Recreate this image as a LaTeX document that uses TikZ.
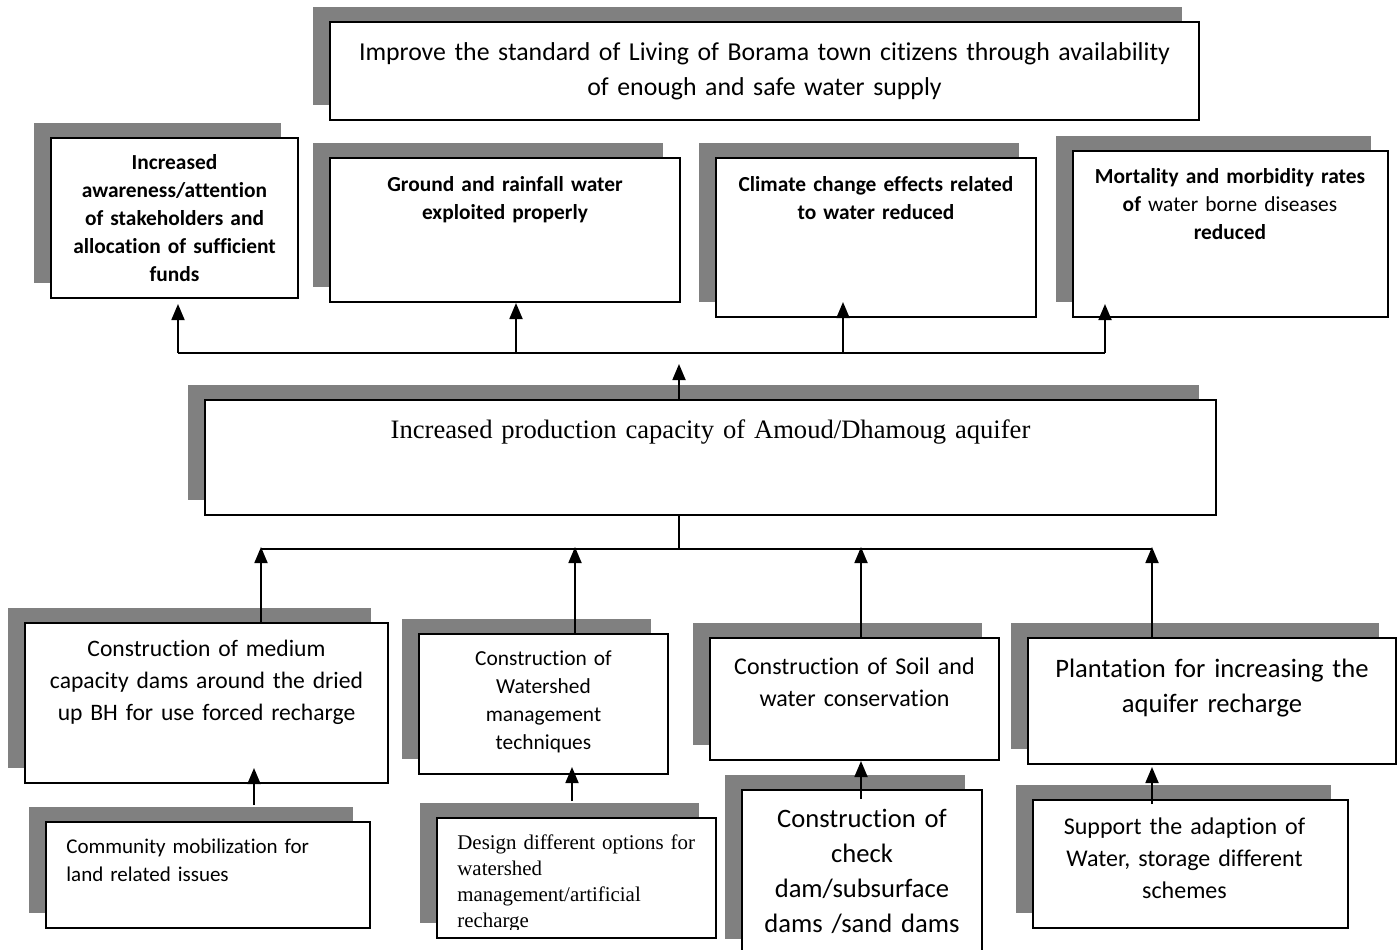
\documentclass[tikz,border=0pt]{standalone}
\usepackage{fontspec}
\setmainfont{Carlito}[Ligatures=NoCommon]
\newfontfamily\tnr{Liberation Serif}
\usetikzlibrary{arrows.meta,shadows,fit,calc}
\definecolor{shadowgray}{HTML}{808080}
\begin{document}
\begin{tikzpicture}[x=0.5pt,y=-0.5pt,
  box/.style={draw=black, line width=1pt, fill=white, inner sep=0pt, rectangle,
    general shadow={fill=shadowgray, draw=none, shadow xshift=-8.5pt, shadow yshift=7.5pt}},
  ln/.style={line width=0.9pt},
  arr/.style={line width=0.9pt, -{Triangle[width=6.5pt,length=8pt]}},
  txt/.style={inner sep=0pt, anchor=base, align=center},
  fsA/.style={font=\fontsize{10.7pt}{14pt}\selectfont},
  fsB/.style={font=\fontsize{12pt}{16pt}\selectfont},
  fsC/.style={font=\fontsize{13.3pt}{17.5pt}\selectfont},
  fsAb/.style={font=\fontsize{10.7pt}{14pt}\selectfont\bfseries},
]
\useasboundingbox (0,0) rectangle (1399,949);
\clip (0,0) rectangle (1399,949);

% boxes
\node[box, fit={(330,22) (1199,120)}] (T) {};
\node[box, fit={(51,138) (298,298)}] (A) {};
\node[box, fit={(330,158) (680,302)}] (B) {};
\node[box, fit={(716,158) (1036,317)}] (C) {};
\node[box, fit={(1073,151) (1388,317)}] (D) {};
\node[box, fit={(205,400) (1216,515)}] (Q) {};
\node[box, fit={(25,623) (388,783)}] (E) {};
\node[box, fit={(419,634) (668,774)}] (F) {};
\node[box, fit={(710,638) (999,760)}] (G) {};
\node[box, fit={(1028,638) (1396,764)}] (H) {};
\node[box, fit={(46,822) (370,928)}] (I) {};
\node[box, fit={(437,818) (716,938)}] (J) {};
\node[box, fit={(742,790) (982,954)}] (K) {};
\node[box, fit={(1033,800) (1348,928)}] (L) {};

% texts
\node[txt, font=\fontsize{12.9pt}{17.5pt}\selectfont, text width=440pt] (Tt) at (764.5,60)
  {Improve the standard of Living of Borama town citizens through availability\\of enough and safe water supply};
\node[txt, fsAb, text width=120pt] (At) at (174.5,169.5)
  {Increased\\awareness/attention\\of stakeholders and\\allocation of sufficient\\funds};
\node[txt, fsAb, text width=170pt] (Bt) at (505,191)
  {Ground and rainfall water\\exploited properly};
\node[txt, fsAb, text width=155pt] (Ct) at (876,191)
  {Climate change effects related\\to water reduced};
\node[txt, fsA, text width=155pt] (Dt) at (1230,183)
  {\textbf{Mortality and morbidity rates}\\\textbf{of} water borne diseases\\\textbf{reduced}};
\node[txt, font=\tnr\fontsize{13.3pt}{17.5pt}\selectfont, text width=480pt] (Qt) at (710.5,438)
  {Increased production capacity of Amoud/Dhamoug aquifer};
\node[txt, font=\fontsize{11.8pt}{16pt}\selectfont, text width=178pt] (Et) at (206.5,656)
  {Construction of medium\\capacity dams around the dried\\up BH for use forced recharge};
\node[txt, fsA, text width=120pt] (Ft) at (543.5,665.5)
  {Construction of\\Watershed\\management\\techniques};
\node[txt, fsB, text width=140pt] (Gt) at (854.5,674)
  {Construction of Soil and\\water conservation};
\node[txt, fsC, text width=180pt] (Ht) at (1212,677)
  {Plantation for increasing the\\aquifer recharge};
\node[inner sep=0pt, anchor=base west, align=left, font=\fontsize{10.5pt}{14pt}\selectfont, text width=150pt] (It) at (66,853.5)
  {Community mobilization for\\land related issues};
\begin{scope}
\clip (437,818) rectangle (716,929);
\node[inner sep=0pt, anchor=base west, align=left, font=\tnr\fontsize{10.45pt}{13pt}\selectfont, text width=135pt] (Jt) at (457,849)
  {Design different options for\\watershed\\management/artificial\\recharge};
\end{scope}
\node[txt, fsC, text width=118pt] (Kt) at (862,827)
  {Construction of\\check\\dam/subsurface\\dams /sand dams};
\node[txt, fsB, text width=150pt] (Lt) at (1184.5,834)
  {Support the adaption of\\Water, storage different\\schemes};

% upper connectors
\coordinate (b1L) at (178,353);
\coordinate (b1B) at (516,353);
\coordinate (b1C) at (843,353);
\coordinate (b1R) at (1105,353);
\coordinate (qa) at (679,364);
\draw[ln] (b1L) -- (b1R);
\draw[arr, shorten >=2.5pt] (b1L) -- (b1L |- A.south);
\draw[arr] (b1B) -- (b1B |- B.south);
\draw[arr, shorten >=-8pt] (b1C) -- (b1C |- C.south);
\draw[arr, shorten >=-7pt] (b1R) -- (b1R |- D.south);
\draw[arr] (Q.north -| qa) -- (qa);

% lower connectors
\coordinate (b2L) at (261,549);
\coordinate (b2F) at (575,549);
\coordinate (b2G) at (861,549);
\coordinate (b2R) at (1152,549);
\coordinate (qb) at (679,549);
\draw[ln] (b2L) -- (b2R);
\draw[ln] (Q.south -| qb) -- (qb);
\draw[arr, shorten >=-1pt] (E.north -| b2L) -- (b2L);
\draw[arr, shorten >=-1pt] (F.north -| b2F) -- (b2F);
\draw[arr, shorten >=-1pt] (G.north -| b2G) -- (b2G);
\draw[arr, shorten >=-1pt] (H.north -| b2R) -- (b2R);

% sub connectors
\coordinate (s1) at (254,0);
\coordinate (s2) at (572,0);
\coordinate (s3) at (861,0);
\coordinate (s4) at (1152,0);
\draw[arr, shorten >=-8pt] ($(I.north -| s1)+(0,-16)$) -- (E.south -| s1);
\draw[arr, shorten >=-4pt] ($(J.north -| s2)+(0,-16)$) -- (F.south -| s2);
\draw[arr] ($(K.north -| s3)+(0,10)$) -- (G.south -| s3);
\draw[arr, shorten >=1pt] ($(L.north -| s4)+(0,5)$) -- (H.south -| s4);
\end{tikzpicture}
\end{document}
